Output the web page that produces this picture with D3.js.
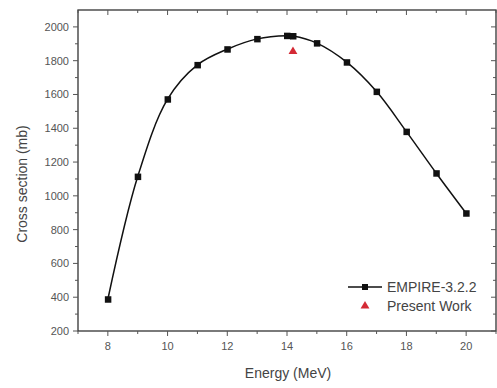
<!DOCTYPE html>
<html><head><meta charset="utf-8">
<script src="https://cdn.jsdelivr.net/npm/d3@7"></script>
<style>body{margin:0;background:#fff;} text{font-family:Arial,"Liberation Sans",sans-serif;}</style>
</head><body>
<svg id="c" width="497" height="388"></svg>
<script>
const energies = [8, 9, 10, 11, 12, 13, 14, 14.2, 15, 16, 17, 18, 19, 20];
const empireValues = [388, 1114, 1572, 1775, 1868, 1929, 1948, 1946, 1904, 1791, 1617, 1380, 1134, 897];
const presentEnergy = [14.2];
const presentValues = [1854];
const xTicks = [8, 10, 12, 14, 16, 18, 20];
const yTicks = [200, 400, 600, 800, 1000, 1200, 1400, 1600, 1800, 2000];
const seriesNames = ["EMPIRE-3.2.2", "Present Work"];

const svg = d3.select("#c");
const L = 78, R = 496, T = 10, B = 331;
const x = d3.scaleLinear().domain([7, 21]).range([L, R]);
const y = d3.scaleLinear().domain([200, 2100]).range([B, T]);

const tickCol = "#555", labCol = "#555";
svg.append("rect").attr("x", L).attr("y", T).attr("width", R - L).attr("height", B - T)
  .attr("fill", "none").attr("stroke", "#333").attr("stroke-width", 1.3);

const xMinor = d3.range(7, 21.01, 1);
const yMinor = d3.range(300, 2100, 200);
const g = svg.append("g");
xMinor.forEach(v => {
  const major = xTicks.includes(v);
  g.append("line").attr("x1", x(v)).attr("x2", x(v)).attr("y1", B).attr("y2", B + (major ? 5 : 3)).attr("stroke", tickCol);
  g.append("line").attr("x1", x(v)).attr("x2", x(v)).attr("y1", T).attr("y2", T + (major ? 5 : 3)).attr("stroke", tickCol);
});
yTicks.forEach(v => {
  g.append("line").attr("x1", L - 5).attr("x2", L).attr("y1", y(v)).attr("y2", y(v)).attr("stroke", tickCol);
  g.append("line").attr("x1", R - 5).attr("x2", R).attr("y1", y(v)).attr("y2", y(v)).attr("stroke", tickCol);
});
yMinor.forEach(v => {
  g.append("line").attr("x1", L - 3).attr("x2", L).attr("y1", y(v)).attr("y2", y(v)).attr("stroke", tickCol);
  g.append("line").attr("x1", R - 3).attr("x2", R).attr("y1", y(v)).attr("y2", y(v)).attr("stroke", tickCol);
});
xTicks.forEach(v => {
  g.append("text").attr("x", x(v)).attr("y", B + 19).attr("text-anchor", "middle")
    .attr("font-size", 11).attr("fill", labCol).text(v);
});
yTicks.forEach(v => {
  g.append("text").attr("x", L - 9).attr("y", y(v) + 4).attr("text-anchor", "end")
    .attr("font-size", 11).attr("fill", labCol).text(v);
});
svg.append("text").attr("x", 288).attr("y", 378).attr("text-anchor", "middle")
  .attr("font-size", 14).attr("fill", "#444").text("Energy (MeV)");
svg.append("text").attr("transform", "translate(27,184) rotate(-90)").attr("text-anchor", "middle")
  .attr("font-size", 14).attr("fill", "#444").text("Cross section (mb)");

const data = energies.map((e, i) => [e, empireValues[i]]);
const line = d3.line().x(d => x(d[0])).y(d => y(d[1])).curve(d3.curveCatmullRom.alpha(0.5));
svg.append("path").attr("d", line(data)).attr("fill", "none").attr("stroke", "#111").attr("stroke-width", 1.5);
svg.selectAll("rect.pt").data(data).enter().append("rect").attr("class", "pt")
  .attr("x", d => x(d[0]) - 3).attr("y", d => y(d[1]) - 3).attr("width", 6.5).attr("height", 6.5).attr("fill", "#111");

const sym = d3.symbol().type(d3.symbolTriangle).size(34);
presentEnergy.forEach((e, i) => {
  svg.append("path").attr("d", sym()).attr("transform", `translate(${x(e)},${y(presentValues[i])})`).attr("fill", "#d42a35");
});

const lg = svg.append("g");
lg.append("line").attr("x1", 348).attr("x2", 382).attr("y1", 287).attr("y2", 287).attr("stroke", "#111").attr("stroke-width", 1.5);
lg.append("rect").attr("x", 365 - 3).attr("y", 287 - 3).attr("width", 6).attr("height", 6).attr("fill", "#111");
lg.append("text").attr("x", 387).attr("y", 292).attr("font-size", 14).attr("fill", "#444").text(seriesNames[0]);
lg.append("path").attr("d", sym()).attr("transform", "translate(365,306)").attr("fill", "#d42a35");
lg.append("text").attr("x", 387).attr("y", 311).attr("font-size", 14).attr("fill", "#444").text(seriesNames[1]);
</script>
</body></html>
